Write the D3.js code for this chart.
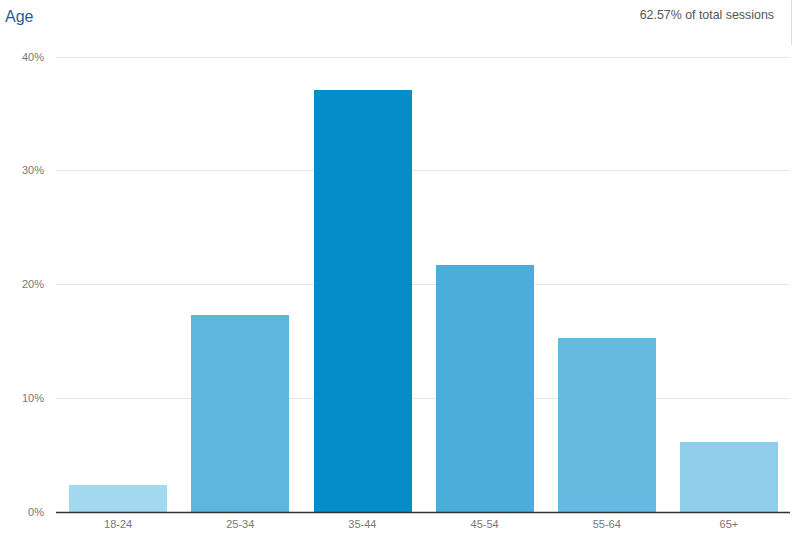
<!DOCTYPE html>
<html>
<head>
<meta charset="utf-8">
<script src="https://cdn.jsdelivr.net/npm/d3@7/dist/d3.min.js"></script>
<style>
  html, body { margin: 0; padding: 0; background: #fff; }
  svg { display: block; font-family: "Liberation Sans", Arial, sans-serif; }
</style>
</head>
<body>
<svg id="chart" width="794" height="550"></svg>
<script>
const categories = ["18-24", "25-34", "35-44", "45-54", "55-64", "65+"];
const values = [2.33, 17.27, 37.05, 21.67, 15.25, 6.11];
const barColors = ["#a2d9f0", "#5db6dd", "#058dc7", "#4aaed8", "#66b9e0", "#8fcfeb"];
const yTicks = [0, 10, 20, 30, 40];
const titleText = "Age";
const subtitleText = "62.57% of total sessions";

const svg = d3.select("#chart");
const margin = { left: 56, right: 4, top: 56.5, bottom: 38.5 };
const W = 794, H = 550;

const x = d3.scaleBand()
  .domain(categories)
  .range([margin.left + 1, W - margin.right])
  .paddingInner(0.2)
  .paddingOuter(0.1);

const y = d3.scaleLinear()
  .domain([0, 40])
  .range([H - margin.bottom, margin.top]);

// light border line at top right
svg.append("line")
  .attr("x1", 791.5).attr("x2", 791.5)
  .attr("y1", 0).attr("y2", 45)
  .attr("stroke", "#dcdcdc").attr("stroke-width", 1);

// gridlines
svg.append("g").selectAll("line")
  .data(yTicks.filter(d => d > 0))
  .join("line")
  .attr("x1", margin.left).attr("x2", W - margin.right)
  .attr("y1", d => Math.round(y(d)) + 0.5).attr("y2", d => Math.round(y(d)) + 0.5)
  .attr("stroke", "#e6e6e6").attr("stroke-width", 1);

// y labels
const yAxis = d3.axisLeft(y).tickValues(yTicks).tickFormat(d => d + "%").tickSize(0).tickPadding(12);
const yg = svg.append("g").attr("transform", `translate(${margin.left},0)`).call(yAxis);
yg.select(".domain").remove();
yg.selectAll("text").attr("fill", "#777").attr("font-size", "11px")
  .attr("font-family", "Liberation Sans, Arial, sans-serif");

// bars
svg.append("g").selectAll("rect")
  .data(categories)
  .join("rect")
  .attr("x", d => Math.round(x(d)))
  .attr("width", Math.round(x.bandwidth()))
  .attr("y", (d, i) => Math.round(y(values[i])))
  .attr("height", (d, i) => Math.round(y(0)) - Math.round(y(values[i])))
  .attr("fill", (d, i) => barColors[i]);

// x axis
const xAxis = d3.axisBottom(x).tickSize(0).tickPadding(8);
const xg = svg.append("g").attr("transform", `translate(0,${Math.round(y(0))})`).call(xAxis);
xg.select(".domain").attr("stroke", "#333").attr("stroke-width", 1.3)
  .attr("d", `M${margin.left},0.5H${W - margin.right}`);
xg.selectAll("text").attr("fill", "#777").attr("font-size", "11px")
  .attr("font-family", "Liberation Sans, Arial, sans-serif");

// title
svg.append("text")
  .attr("x", 5).attr("y", 22)
  .attr("fill", "#1f5c99").attr("font-size", "16px")
  .text(titleText);

svg.append("text")
  .attr("x", 774).attr("y", 19)
  .attr("text-anchor", "end")
  .attr("fill", "#555").attr("font-size", "12.4px")
  .text(subtitleText);
</script>
</body>
</html>
